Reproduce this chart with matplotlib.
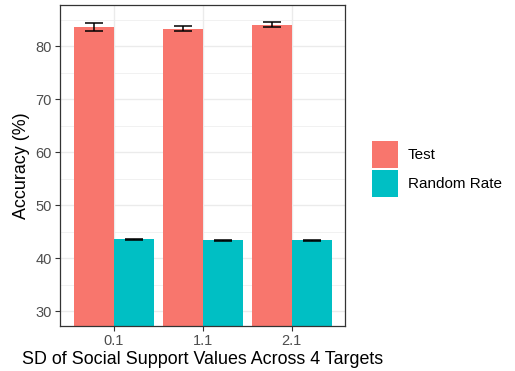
import numpy as np
import matplotlib.pyplot as plt
from matplotlib.patches import Patch

plt.rcParams["font.family"] = ["Liberation Sans", "DejaVu Sans"]

sd_levels = ["0.1", "1.1", "2.1"]
series = ["Test", "Random Rate"]
test_mean = [83.6, 83.3, 84.1]
test_se = [0.75, 0.5, 0.4]
random_mean = [43.55, 43.37, 43.4]
random_se = [0.1, 0.07, 0.08]
colors = ["#F8766D", "#00BFC4"]

fig = plt.figure(figsize=(5.15, 3.71), dpi=100)
ax = fig.add_axes([0.117, 0.122, 0.553, 0.864])

x = np.arange(1, len(sd_levels) + 1)
w = 0.45
means = [test_mean, random_mean]
ses = [test_se, random_se]
for i, (m, s) in enumerate(zip(means, ses)):
    pos = x + (i - 0.5) * w
    ax.bar(pos, m, width=w, color=colors[i], zorder=2)
    ax.errorbar(pos, m, yerr=s, fmt="none", ecolor="black",
                elinewidth=1.1, capsize=6.8, capthick=1.1, zorder=3)

ax.set_xlim(0.4, 3.6)
ax.set_ylim(27.25, 87.75)
ax.set_xticks(x)
ax.set_xticklabels(sd_levels)
ax.set_yticks([30, 40, 50, 60, 70, 80])
ax.set_yticks([35, 45, 55, 65, 75, 85], minor=True)
ax.grid(True, which="major", color="#EBEBEB", linewidth=1.0, zorder=0)
ax.grid(True, which="minor", axis="y", color="#EBEBEB", linewidth=0.5, zorder=0)
ax.set_axisbelow(True)
ax.tick_params(axis="both", which="major", labelsize=10.5, labelcolor="#4D4D4D",
               color="#333333", length=3.5, width=0.8, pad=2.5)
ax.tick_params(axis="y", which="minor", length=0)
for sp in ax.spines.values():
    sp.set_color("#333333")
    sp.set_linewidth(0.9)

ax.set_xlabel("SD of Social Support Values Across 4 Targets", fontsize=12.9, labelpad=2)
ax.set_ylabel("Accuracy (%)", fontsize=12.9, labelpad=4)

handles = [Patch(facecolor=c, edgecolor="none") for c in colors]
fig.legend(handles, series, loc="center left", bbox_to_anchor=(0.695, 0.545),
           frameon=False, fontsize=11, handlelength=1.7, handleheight=2.35,
           handletextpad=0.65, labelspacing=0.12)

fig.savefig("out.png", dpi=100)
